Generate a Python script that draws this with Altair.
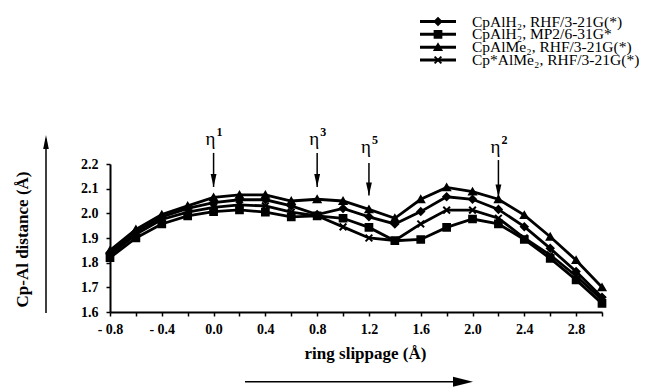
import altair as alt
import pandas as pd

# ---- data ----
x_vals = [-0.8, -0.6, -0.4, -0.2, 0.0, 0.2, 0.4, 0.6, 0.8, 1.0,
          1.2, 1.4, 1.6, 1.8, 2.0, 2.2, 2.4, 2.6, 2.8, 3.0]

series_names = [
    "CpAlH₂, RHF/3-21G(*)",
    "CpAlH₂, MP2/6-31G*",
    "CpAlMe₂, RHF/3-21G(*)",
    "Cp*AlMe₂, RHF/3-21G(*)",
]

cpalh2_rhf = [1.84, 1.925, 1.985, 2.02, 2.043, 2.055, 2.055, 2.03, 1.995, 2.02,
              1.986, 1.957, 2.007, 2.067, 2.057, 2.016, 1.946, 1.858, 1.764, 1.66]
cpalh2_mp2 = [1.82, 1.90, 1.957, 1.99, 2.007, 2.014, 2.005, 1.986, 1.99, 1.98,
              1.943, 1.889, 1.894, 1.943, 1.977, 1.957, 1.894, 1.817, 1.73, 1.635]
cpalme2_rhf = [1.85, 1.935, 1.995, 2.03, 2.065, 2.075, 2.075, 2.05, 2.057, 2.05,
               2.016, 1.98, 2.057, 2.105, 2.088, 2.057, 1.993, 1.905, 1.81, 1.70]
cpstar_alme2 = [1.83, 1.915, 1.975, 2.005, 2.024, 2.034, 2.03, 2.005, 1.99, 1.945,
                1.90, 1.89, 1.957, 2.013, 2.013, 1.98, 1.90, 1.831, 1.746, 1.65]

series_values = [cpalh2_rhf, cpalh2_mp2, cpalme2_rhf, cpstar_alme2]

# eta annotations (positions in data units)
eta_x = [0.0, 0.8, 1.2, 2.2]
eta_base = ["η", "η", "η", "η"]
eta_sup = ["1", "3", "5", "2"]
eta_label_y = [2.300, 2.300, 2.268, 2.268]
eta_arrow_top = [2.245, 2.245, 2.204, 2.216]
eta_arrow_tip = [2.107, 2.107, 2.072, 2.064]

x_ticks = [round(-0.8 + 0.2 * i, 1) for i in range(20)]
y_ticks = [1.6, 1.7, 1.8, 1.9, 2.0, 2.1, 2.2]

# ---- tables ----
rows = []
for name, vals in zip(series_names, series_values):
    for xv, yv in zip(x_vals, vals):
        rows.append({"series": name, "x": xv, "y": yv})
df = pd.DataFrame(rows)
eta_df = pd.DataFrame({"x": eta_x, "base": eta_base, "sup": eta_sup,
                       "ly": eta_label_y, "top": eta_arrow_top, "tip": eta_arrow_tip})
leg_df = pd.DataFrame({"series": series_names})
one = pd.DataFrame({"a": [0]})

FONT = "Liberation Serif"
shape_range = ["diamond", "square", "triangle-up", "M-1,-1L1,1M1,-1L-1,1"]
shape_scale = alt.Scale(domain=series_names, range=shape_range)

xscale = alt.Scale(domain=[-0.8, 3.0], nice=False, zero=False)
yscale = alt.Scale(domain=[1.6, 2.2], nice=False, zero=False)

label_expr = ("abs(round(datum.value*5)) % 2 == 1 ? '' : "
              "(datum.value < -0.01 ? '- ' + format(abs(datum.value), '.1f') : format(datum.value, '.1f'))")

X = alt.X("x:Q", scale=xscale,
          axis=alt.Axis(values=x_ticks, tickCount=len(x_ticks), labelExpr=label_expr,
                        title="ring slippage (Å)", titleX=255, titleY=41,
                        titleBaseline="middle", labelPadding=6))
Y = alt.Y("y:Q", scale=yscale,
          axis=alt.Axis(values=y_ticks, tickCount=len(y_ticks), format=".1f",
                        title="Cp-Al distance (Å)", titleX=-88, titleY=75,
                        titleAngle=-90, titleAlign="center", titleBaseline="middle",
                        labelPadding=8))

lines = alt.Chart(df).mark_line(color="black", strokeWidth=2.8).encode(
    x=X, y=Y, detail="series:N")
points = alt.Chart(df).mark_point(fill="black", stroke="black", strokeWidth=2,
                                  opacity=1, size=45).encode(
    x=alt.X("x:Q", scale=xscale), y=alt.Y("y:Q", scale=yscale),
    shape=alt.Shape("series:N", scale=shape_scale, legend=None))

eta_rules = alt.Chart(eta_df).mark_rule(color="black", strokeWidth=1.5).encode(
    x="x:Q", y="top:Q", y2="tip:Q")
eta_heads = alt.Chart(eta_df).mark_point(
    shape="M0,0L-0.45,-2L0.45,-2Z", fill="black", strokeWidth=0, opacity=1,
    size=169).encode(x="x:Q", y="tip:Q")
eta_labels = alt.Chart(eta_df).mark_text(
    font=FONT, fontSize=19, color="black", baseline="middle", align="center",
    dx=-3).encode(x="x:Q", y="ly:Q", text="base:N")
eta_sups = alt.Chart(eta_df).mark_text(
    font=FONT, fontSize=12, fontWeight="bold", color="black", baseline="middle",
    align="left", dx=3, dy=-7).encode(x="x:Q", y="ly:Q", text="sup:N")

# decorative axis-title arrows
y_arrow = alt.Chart(one).mark_rule(color="black", strokeWidth=1.5).encode(
    x=alt.value(-64), y=alt.value(-25), y2=alt.value(149))
y_arrow_head = alt.Chart(one).mark_point(
    shape="M0,0L0.4,2L-0.4,2Z", fill="black", strokeWidth=0, opacity=1,
    size=196).encode(x=alt.value(-64), y=alt.value(-29))
x_arrow = alt.Chart(one).mark_rule(color="black", strokeWidth=1.5).encode(
    x=alt.value(135), x2=alt.value(358), y=alt.value(217.7))
x_arrow_head = alt.Chart(one).mark_point(
    shape="M0,0L-2,-0.5L-2,0.5Z", fill="black", strokeWidth=0, opacity=1,
    size=400).encode(x=alt.value(363), y=alt.value(217.7))

main = alt.layer(lines, points, eta_rules, eta_heads, eta_labels, eta_sups,
                 y_arrow, y_arrow_head, x_arrow, x_arrow_head)

# manual legend
leg_y = alt.Y("series:N", scale=alt.Scale(domain=series_names, range=[-142.5, -104.0],
                                          type="point", padding=0), axis=None)
leg_rules = alt.Chart(leg_df).mark_rule(color="black", strokeWidth=3).encode(
    x=alt.value(310), x2=alt.value(346), y=leg_y)
leg_points = alt.Chart(leg_df).mark_point(fill="black", stroke="black", strokeWidth=2,
                                          opacity=1, size=45).encode(
    x=alt.value(328), y=leg_y,
    shape=alt.Shape("series:N", scale=shape_scale, legend=None))
leg_text = alt.Chart(leg_df).mark_text(
    font=FONT, fontSize=15.5, color="black", align="left", baseline="middle").encode(
    x=alt.value(362), y=leg_y, text="series:N")
legend = alt.layer(leg_rules, leg_points, leg_text)

chart = alt.layer(main, legend).resolve_scale(y="independent").properties(
    width=492, height=148,
    autosize=alt.AutoSizeParams(type="none"),
    padding={"left": 102, "top": 156, "right": 37, "bottom": 80},
    background="white",
).configure_view(stroke=None).configure_axis(
    grid=False, labelOverlap=False, labelFlush=False,
    labelFont=FONT, labelFontSize=14, labelFontWeight="bold", labelColor="black",
    titleFont=FONT, titleFontSize=17, titleFontWeight="bold", titleColor="black",
    tickSize=4, tickColor="black", tickWidth=1.5,
    domainColor="black", domainWidth=2,
)

chart.save("out.html", embed_options={"renderer": "svg", "actions": False})
